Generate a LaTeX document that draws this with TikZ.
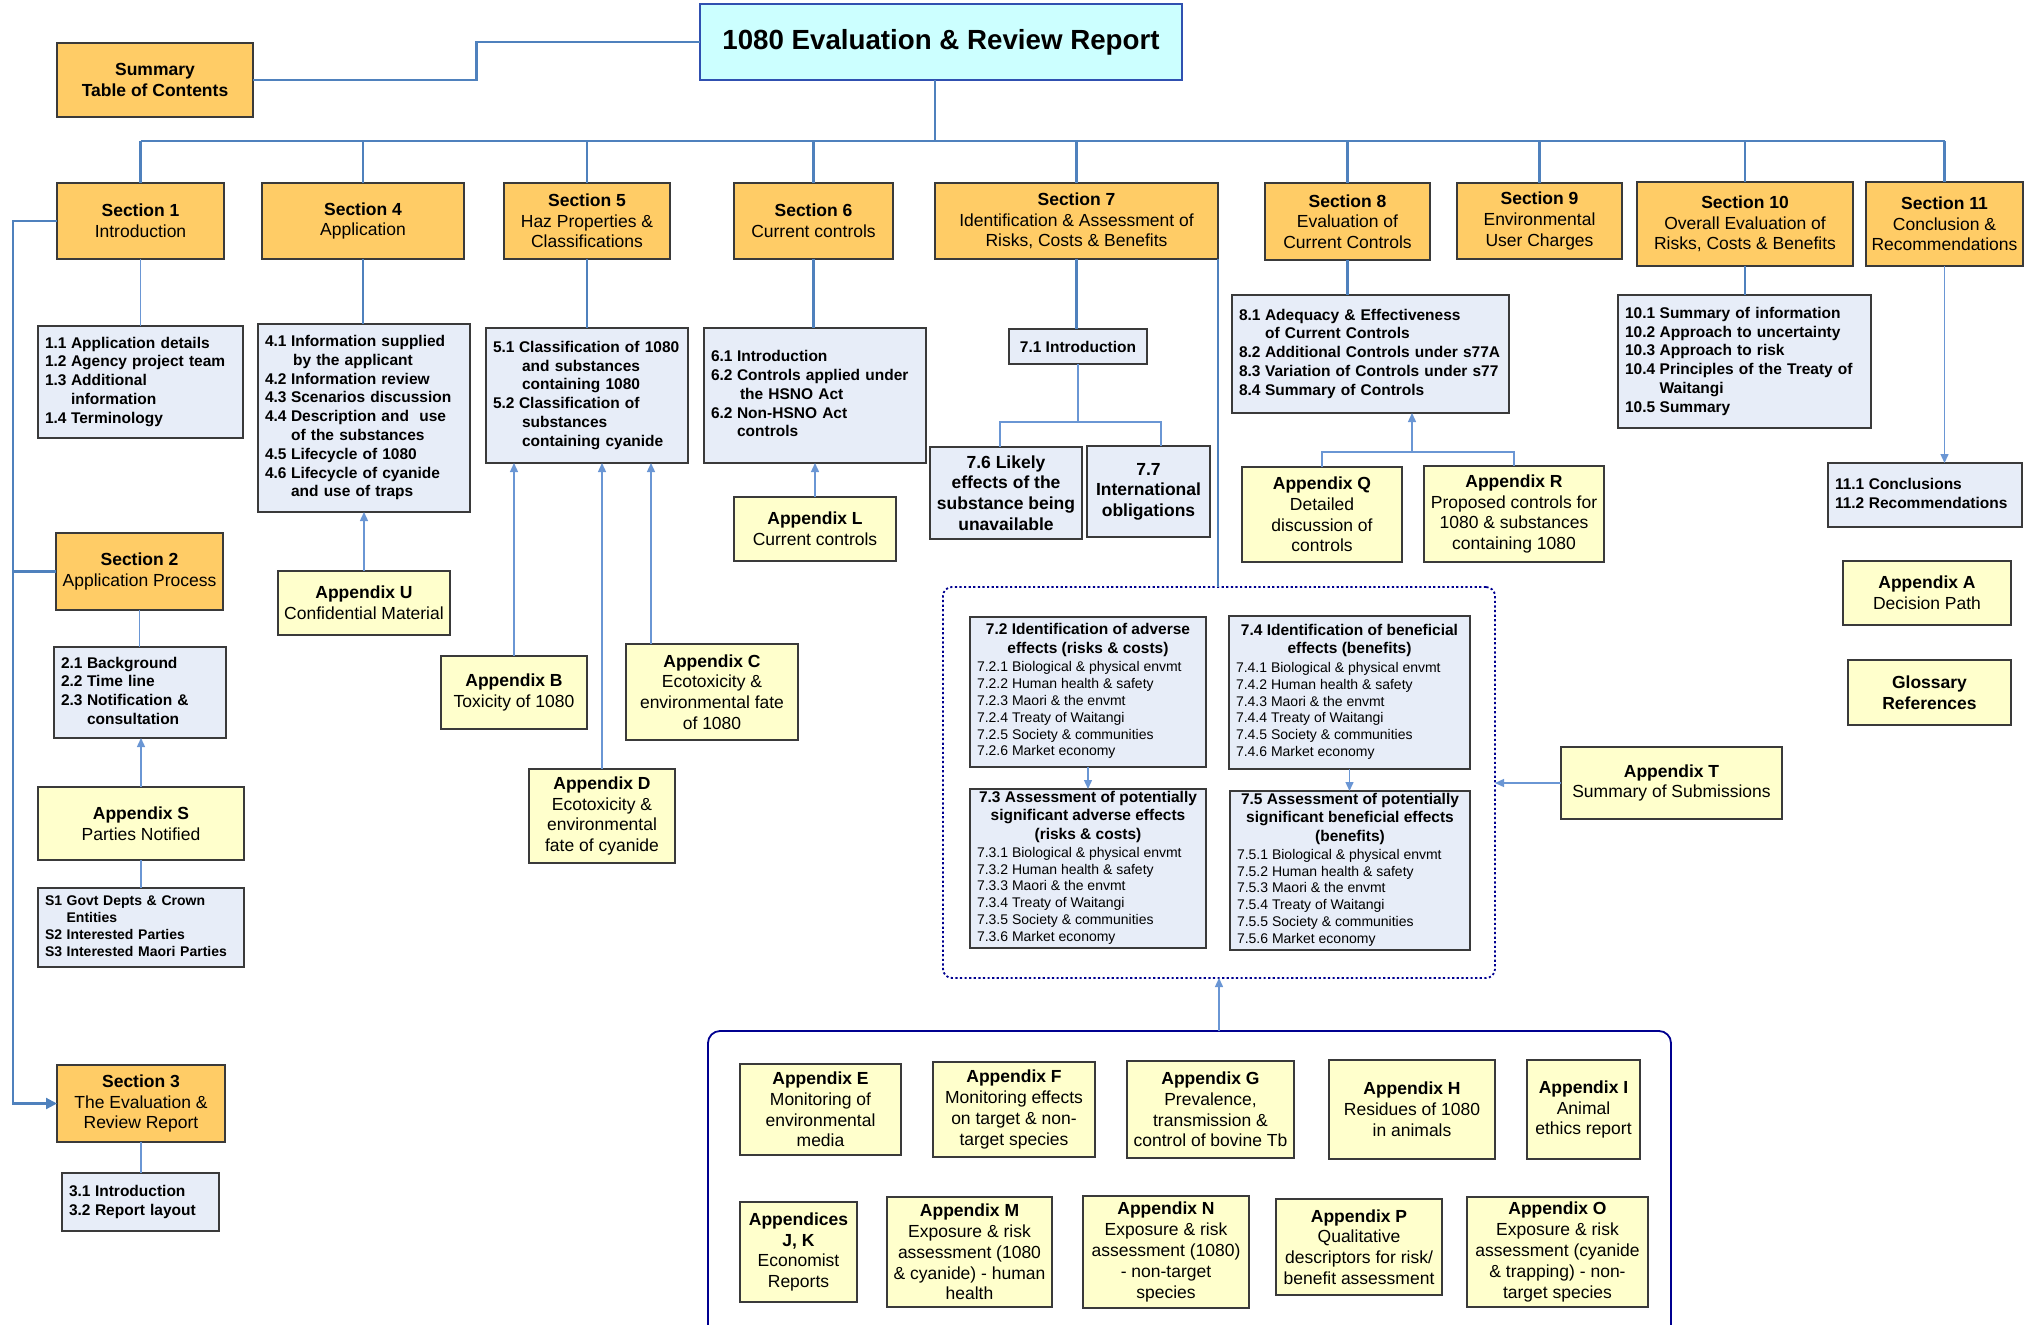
\documentclass[tikz,border=0pt]{standalone}
\usepackage{fontspec}
\setmainfont{Liberation Sans}
\usetikzlibrary{arrows.meta,calc}
\definecolor{orng}{HTML}{FFCC66}
\definecolor{subb}{HTML}{E7EDF8}
\definecolor{ylw}{HTML}{FFFFCC}
\definecolor{ttl}{HTML}{CCFFFF}
\definecolor{ttlb}{HTML}{3050B0}
\definecolor{lnc}{HTML}{4F81BD}
\definecolor{lnct}{HTML}{6A96D4}
\definecolor{bord}{HTML}{3A3A3A}
\definecolor{dnavy}{HTML}{000090}
\newcommand\fTtl{\fontsize{27.7}{32}\selectfont\bfseries}
\newcommand\fSec{\fontsize{17.5}{20.6}\selectfont}
\newcommand\fApp{\fontsize{17.5}{20.8}\selectfont}
\newcommand\fLst{\fontsize{15.5}{18.8}\selectfont\bfseries}
\newcommand\fSml{\fontsize{14}{16.8}\selectfont\bfseries}
\newcommand\fItm{\fontsize{14}{16.8}\selectfont}
\newcommand\fHd{\fontsize{15.5}{18.6}\selectfont\bfseries}
\newcommand\hdr[1]{\multicolumn{1}{@{}c@{}}{\fHd #1}}
\newcommand\lst[1]{\begin{tabular}{@{}l@{\hspace{4.5pt}}l@{}}#1\end{tabular}}
\newcommand\sbx[2]{\begin{tabular}{@{}p{#1pt}@{}}#2\end{tabular}}
\newcommand\mybox[7]{%
  \pgfmathsetmacro\mbx{(#3+#5)/2}%
  \pgfmathsetmacro\mby{(#4+#6)/2}%
  \pgfmathsetmacro\mbw{#5-#3}%
  \pgfmathsetmacro\mbh{#6-#4}%
  \pgfmathsetmacro\mbtw{#5-#3-14}%
  \node[#2, minimum width=\mbw pt, minimum height=\mbh pt] (#1) at (\mbx,\mby) {#7};}
\begin{document}
\begin{tikzpicture}[x=1pt,y=-1pt,
  box/.style={draw=bord, line width=1.3pt, inner sep=0pt, outer sep=0pt, align=center},
  sec/.style={box, fill=orng, font=\fSec},
  app/.style={box, fill=ylw, font=\fApp},
  sub/.style={box, fill=subb},
  lstb/.style={sub, font=\fLst, align=left, inner xsep=7pt, text width=\mbtw pt},
  lsts/.style={lstb, font=\fSml},
  ttlbox/.style={box, fill=ttl, draw=ttlb, line width=1.8pt, font=\fTtl},
  dotb/.style={draw=dnavy, line width=1.8pt, dash pattern=on 2.2pt off 2.4pt, rounded corners=9pt, inner sep=0pt, outer sep=0pt},
  bus/.style={draw=lnc, line width=2.2pt},
  thn/.style={draw=lnct, line width=1.4pt},
  arr/.style={-{Triangle[width=8pt,length=9pt]}},
  bigarr/.style={-{Triangle[width=11pt,length=11pt]}}]
\useasboundingbox (0,0) rectangle (2024,1325);

% ---- title and summary
\mybox{title}{ttlbox}{700}{4}{1182}{80}{1080 Evaluation \& Review Report}
\mybox{summ}{sec}{57}{43}{253}{117}{\textbf{Summary}\\\textbf{Table of Contents}}

% ---- sections
\mybox{sec1}{sec}{57}{183}{224}{259}{\textbf{Section 1}\\Introduction}
\mybox{sec4}{sec}{262}{183}{464}{259}{\textbf{Section 4}\\Application}
\mybox{sec5}{sec}{504}{183}{670}{259}{\textbf{Section 5}\\Haz Properties \&\\Classifications}
\mybox{sec6}{sec}{734}{183}{893}{259}{\textbf{Section 6}\\Current controls}
\mybox{sec7}{sec}{935}{183}{1218}{259}{\textbf{Section 7}\\Identification \& Assessment of\\Risks, Costs \& Benefits}
\mybox{sec8}{sec}{1265}{183}{1430}{260}{\textbf{Section 8}\\Evaluation of\\Current Controls}
\mybox{sec9}{sec}{1457}{183}{1622}{259}{\textbf{Section 9}\\Environmental\\User Charges}
\mybox{sec10}{sec}{1637}{182}{1853}{266}{\textbf{Section 10}\\Overall Evaluation of\\Risks, Costs \& Benefits}
\mybox{sec11}{sec}{1866}{182}{2023}{266}{\textbf{Section 11}\\Conclusion \&\\Recommendations}
\mybox{sec2}{sec}{56}{533}{223}{610}{\textbf{Section 2}\\Application Process}
\mybox{sec3}{sec}{57}{1065}{225}{1142}{\textbf{Section 3}\\The Evaluation \&\\Review Report}

% ---- sub-section lists
\mybox{s11}{lstb}{38}{326}{243}{438}{\lst{1.1&Application details\\1.2&Agency project team\\1.3&Additional\\&information\\1.4&Terminology}}
\mybox{s21}{lstb}{54}{647}{226}{738}{\lst{2.1&Background\\2.2&Time line\\2.3&Notification \&\\&consultation}}
\mybox{s1box}{lsts}{38}{888}{244}{967}{\lst{S1&Govt Depts \& Crown\\&Entities\\S2&Interested Parties\\S3&Interested Maori Parties}}
\mybox{s31}{lstb}{62}{1173}{219}{1231}{\lst{3.1&Introduction\\3.2&Report layout}}
\mybox{s41}{lstb}{258}{324}{470}{512}{\lst{4.1&Information supplied\\&\hspace{2pt}by the applicant\\4.2&Information review\\4.3&Scenarios discussion\\4.4&Description and\ \ use\\&of the substances\\4.5&Lifecycle of 1080\\4.6&Lifecycle of cyanide\\&and use of traps}}
\mybox{s51}{lstb}{486}{328}{688}{463}{\lst{5.1&Classification of 1080\\&\hspace{3pt}and substances\\&\hspace{3pt}containing 1080\\5.2&Classification of\\&\hspace{3pt}substances\\&\hspace{3pt}containing cyanide}}
\mybox{s61}{lstb}{704}{328}{926}{463}{\lst{6.1&Introduction\\6.2&Controls applied under\\&\hspace{3pt}the HSNO Act\\6.2&Non-HSNO Act\\&controls}}
\mybox{s71}{sub, font=\fLst}{1009}{329}{1147}{364}{7.1 Introduction}
\mybox{s76}{sub, font={\fSec\bfseries}}{930}{447}{1082}{539}{7.6 Likely\\effects of the\\substance being\\unavailable}
\mybox{s77}{sub, font={\fSec\bfseries}}{1087}{446}{1210}{537}{7.7\\International\\obligations}
\mybox{s81}{lstb}{1232}{295}{1509}{413}{\lst{8.1&Adequacy \& Effectiveness\\&of Current Controls\\8.2&Additional Controls under s77A\\8.3&Variation of Controls under s77\\8.4&Summary of Controls}}
\mybox{s101}{lstb}{1618}{295}{1871}{428}{\lst{10.1&Summary of information\\10.2&Approach to uncertainty\\10.3&Approach to risk\\10.4&Principles of the Treaty of\\&Waitangi\\10.5&Summary}}
\mybox{s111}{lstb}{1828}{463}{2022}{527}{\lst{11.1&Conclusions\\11.2&Recommendations}}

% ---- dotted group of section 7
\mybox{dot}{dotb}{943}{587}{1495}{978}{}
\mybox{s72}{sub, font=\fItm}{970}{617}{1206}{767}{\sbx{222}{\hdr{7.2 Identification of adverse}\\[1.8pt]\hdr{effects (risks \& costs)}\\[1.8pt]
7.2.1 Biological \& physical envmt\\7.2.2 Human health \& safety\\7.2.3 Maori \& the envmt\\7.2.4 Treaty of Waitangi\\7.2.5 Society \& communities\\7.2.6 Market economy}}
\mybox{s74}{sub, font=\fItm}{1229}{616}{1470}{769}{\sbx{227}{\hdr{7.4 Identification of beneficial}\\[1.8pt]\hdr{effects (benefits)}\\[1.8pt]
7.4.1 Biological \& physical envmt\\7.4.2 Human health \& safety\\7.4.3 Maori \& the envmt\\7.4.4 Treaty of Waitangi\\7.4.5 Society \& communities\\7.4.6 Market economy}}
\mybox{s73}{sub, font=\fItm}{970}{789}{1206}{948}{\sbx{222}{\hdr{7.3 Assessment of potentially}\\[1.5pt]\hdr{significant adverse effects}\\[1.5pt]\hdr{(risks \& costs)}\\[1.5pt]
7.3.1 Biological \& physical envmt\\7.3.2 Human health \& safety\\7.3.3 Maori \& the envmt\\7.3.4 Treaty of Waitangi\\7.3.5 Society \& communities\\7.3.6 Market economy}}
\mybox{s75}{sub, font=\fItm}{1230}{791}{1470}{950}{\sbx{226}{\hdr{7.5 Assessment of potentially}\\[1.5pt]\hdr{significant beneficial effects}\\[1.5pt]\hdr{(benefits)}\\[1.5pt]
7.5.1 Biological \& physical envmt\\7.5.2 Human health \& safety\\7.5.3 Maori \& the envmt\\7.5.4 Treaty of Waitangi\\7.5.5 Society \& communities\\7.5.6 Market economy}}

% ---- appendices
\mybox{appU}{app}{278}{571}{450}{635}{\textbf{Appendix U}\\Confidential Material}
\mybox{appS}{app}{38}{787}{244}{860}{\textbf{Appendix S}\\Parties Notified}
\mybox{appB}{app}{441}{656}{587}{729}{\textbf{Appendix B}\\Toxicity of 1080}
\mybox{appC}{app}{626}{644}{798}{740}{\textbf{Appendix C}\\Ecotoxicity \&\\environmental fate\\of 1080}
\mybox{appD}{app}{529}{769}{675}{863}{\textbf{Appendix D}\\Ecotoxicity \&\\environmental\\fate of cyanide}
\mybox{appL}{app}{734}{497}{896}{561}{\textbf{Appendix L}\\Current controls}
\mybox{appQ}{app}{1242}{467}{1402}{562}{\textbf{Appendix Q}\\Detailed\\discussion of\\controls}
\mybox{appR}{app}{1424}{466}{1604}{562}{\textbf{Appendix R}\\Proposed controls for\\1080 \& substances\\containing 1080}
\mybox{appA}{app}{1843}{561}{2011}{625}{\textbf{Appendix A}\\Decision Path}
\mybox{gloss}{app}{1848}{660}{2011}{725}{\textbf{Glossary}\\\textbf{References}}
\mybox{appT}{app}{1561}{747}{1782}{819}{\textbf{Appendix T}\\Summary of Submissions}

% ---- bottom group
\draw[draw=dnavy, line width=1.8pt, rounded corners=12pt] (708,1325) -- (708,1031) -- (1671,1031) -- (1671,1325);
\coordinate (bottop) at (1219,1031);
\mybox{appE}{app}{740}{1064}{901}{1155}{\textbf{Appendix E}\\Monitoring of\\environmental\\media}
\mybox{appF}{app}{933}{1062}{1095}{1157}{\textbf{Appendix F}\\Monitoring effects\\on target \& non-\\target species}
\mybox{appG}{app}{1127}{1061}{1294}{1158}{\textbf{Appendix G}\\Prevalence,\\transmission \&\\control of bovine Tb}
\mybox{appH}{app}{1329}{1060}{1495}{1159}{\textbf{Appendix H}\\Residues of 1080\\in animals}
\mybox{appI}{app}{1527}{1060}{1640}{1159}{\textbf{Appendix I}\\Animal\\ethics report}
\mybox{appJK}{app}{740}{1202}{857}{1302}{\textbf{Appendices}\\\textbf{J, K}\\Economist\\Reports}
\mybox{appM}{app}{887}{1197}{1052}{1307}{\textbf{Appendix M}\\Exposure \& risk\\assessment (1080\\\& cyanide) - human\\health}
\mybox{appN}{app}{1083}{1196}{1249}{1308}{\textbf{Appendix N}\\Exposure \& risk\\assessment (1080)\\- non-target\\species}
\mybox{appP}{app}{1276}{1199}{1442}{1295}{\textbf{Appendix P}\\Qualitative\\descriptors for risk/\\benefit assessment}
\mybox{appO}{app}{1467}{1197}{1648}{1307}{\textbf{Appendix O}\\Exposure \& risk\\assessment (cyanide\\\& trapping) - non-\\target species}

% ---- connectors
\draw[bus] (title.west) -| ($(title.west)!.5!(summ.east)$) |- (summ.east);
\coordinate (tb) at (935,141);
\draw[bus] (title.south -| tb) -- (tb);
\draw[bus] (sec1.north |- tb) -- (sec11.north |- tb);
\foreach \n in {sec1,sec4,sec5,sec6,sec7,sec8,sec9,sec10,sec11}
  \draw[bus] (\n.north |- tb) -- (\n.north);
\coordinate (lx) at (13,600);
\draw[bus,bigarr] (sec1.west) -- (sec1.west -| lx) -- (sec3.west -| lx) -- (sec3.west);
\draw[bus] (sec2.west) -- (sec2.west -| lx);

\draw[thn] (sec1.south) -- (s11.north);
\draw[thn] (sec2.south) -- (sec2.south |- s21.north);
\draw[thn,arr] (appS.north) -- (appS.north |- s21.south);
\draw[thn] (appS.south) -- (s1box.north);
\draw[thn] (sec3.south) -- (sec3.south |- s31.north);
\draw[bus] (sec4.south) -- (sec4.south |- s41.north);
\draw[thn,arr] (appU.north) -- (appU.north |- s41.south);
\draw[bus] (sec5.south) -- (sec5.south |- s51.north);
\draw[thn,arr] (appB.north) -- (appB.north |- s51.south);
\draw[thn,arr] (appD.north) -- (appD.north |- s51.south);
\coordinate (cx) at (651,600);
\draw[thn,arr] (appC.north -| cx) -- (s51.south -| cx);
\draw[bus] (sec6.south) -- (sec6.south |- s61.north);
\draw[thn,arr] (appL.north) -- (appL.north |- s61.south);
\draw[bus] (sec7.south) -- (sec7.south |- s71.north);
\coordinate (d76) at (1000,422);
\coordinate (d77) at (1161,422);
\draw[thn] (s71.south) -- (s71.south |- d76);
\draw[thn] (s76.north -| d76) -- (d76) -- (d77) -- (s77.north -| d77);
\draw[bus] (sec7.south east) -- (sec7.south east |- dot.north);
\draw[thn,arr] (s72.south) -- (s72.south |- s73.north);
\draw[thn,arr] (s74.south) -- (s74.south |- s75.north);
\draw[thn,arr] (appT.west) -- (appT.west -| dot.east);
\draw[thn,arr] (bottop) -- (bottop |- dot.south);
\draw[bus] (sec8.south) -- (sec8.south |- s81.north);
\coordinate (jq) at (1412,452);
\draw[thn] (appQ.north) |- (jq) -| (appR.north);
\draw[thn,arr] (jq) -- (jq |- s81.south);
\draw[bus] (sec10.south) -- (sec10.south |- s101.north);
\draw[thn,arr] (sec11.south) -- (sec11.south |- s111.north);
\end{tikzpicture}
\end{document}
